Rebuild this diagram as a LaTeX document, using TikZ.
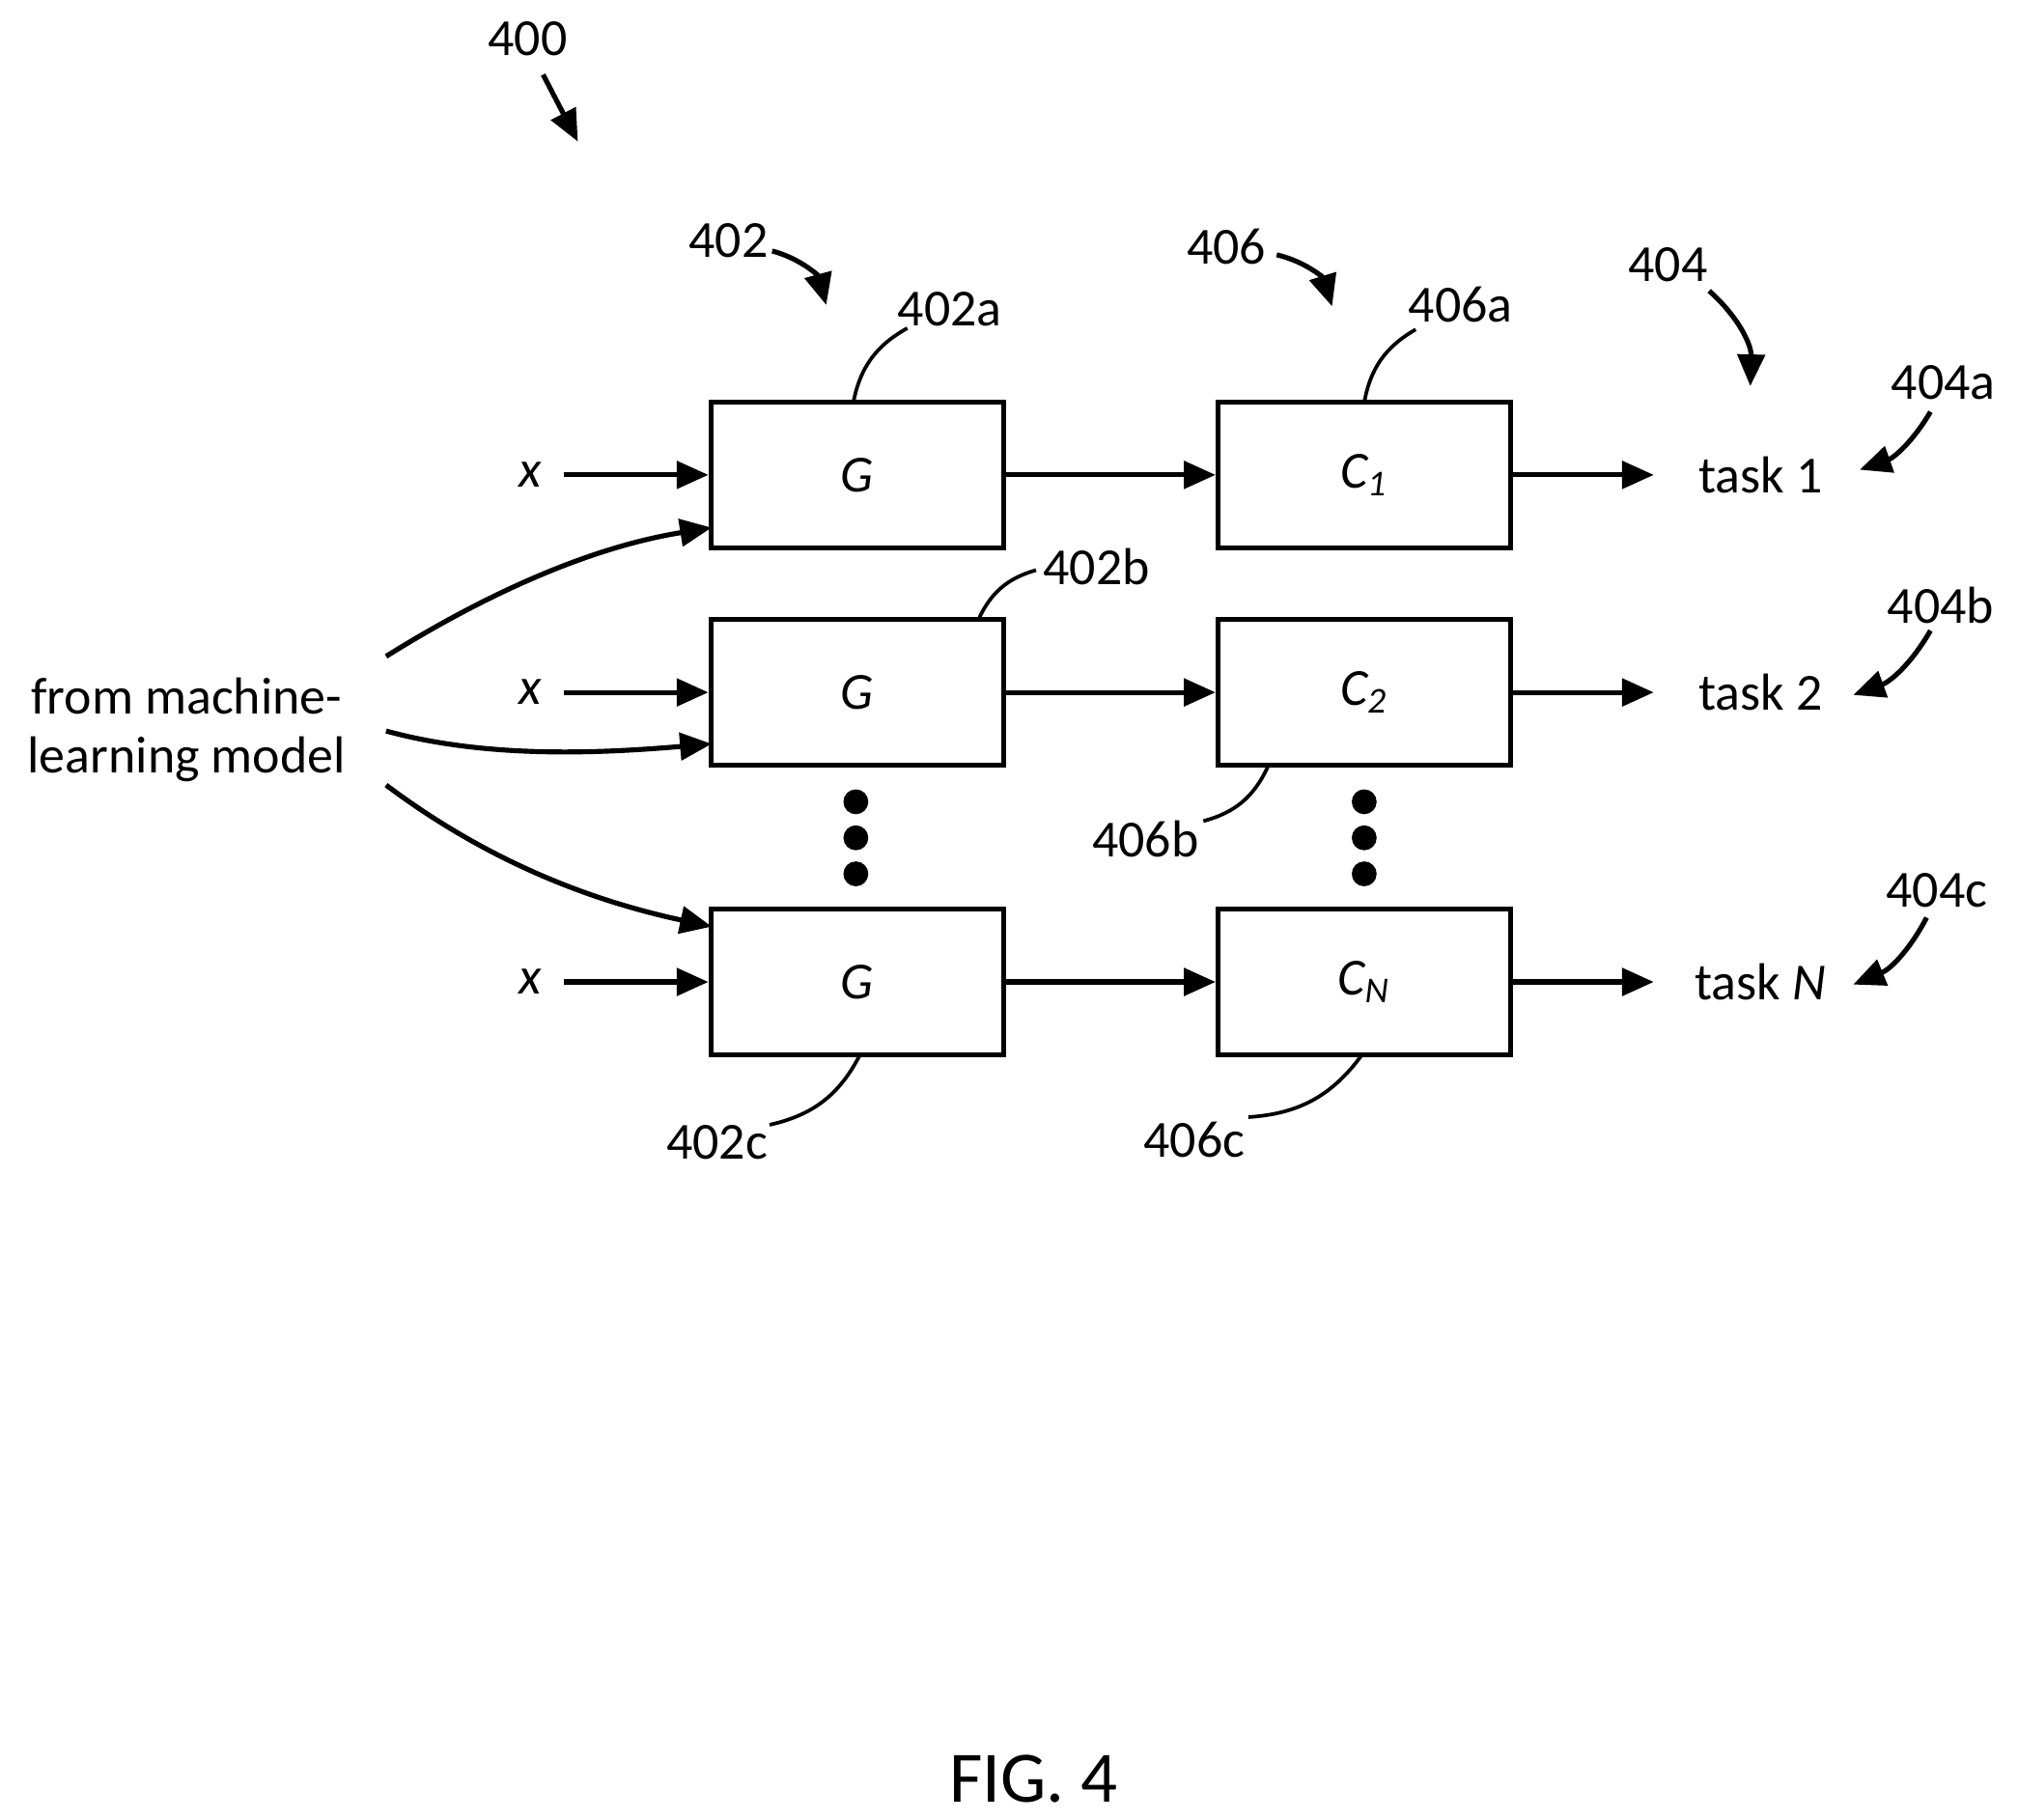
\documentclass[tikz,border=0pt]{standalone}
\usepackage{fontspec}
\setmainfont{Carlito}
\usetikzlibrary{arrows.meta}
\begin{document}
\begin{tikzpicture}[x=0.01cm,y=-0.01cm,
 box/.style={draw,line width=1.1pt,minimum width=226\pgflinewidth,inner sep=0},
 ar/.style={line width=1.1pt,-{Triangle[length=7pt,width=6pt]}},
 ld/.style={line width=0.8pt},
 lab/.style={font=\fontsize{11.5}{13}\selectfont},
 dot/.style={circle,fill,inner sep=0,minimum size=5.5pt}]
\useasboundingbox (0,0) rectangle (1568,1414);
\tikzset{every node/.append style={font=\fontsize{11.5}{13}\selectfont}}
\foreach \n/\y in {1/369,2/538,3/763}{
 \node[draw,line width=1.1pt,minimum width=6.4cm*0.355,minimum height=1.13cm,inner sep=0] (g\n) at (666,\y) {\textit{G}};
 \node (x\n) at (412,\y) {\textit{x}};
 \coordinate (xs\n) at (438,\y);
 \draw[ar] (xs\n) -- (g\n.west);
}
\node[draw,line width=1.1pt,minimum width=2.27cm,minimum height=1.13cm] (c1) at (1060,369) {$\mathit{C}_{\mathit{1}}$};
\node[draw,line width=1.1pt,minimum width=2.27cm,minimum height=1.13cm] (c2) at (1060,538) {$\mathit{C}_{\mathit{2}}$};
\node[draw,line width=1.1pt,minimum width=2.27cm,minimum height=1.13cm] (c3) at (1060,763) {$\mathit{C}_{\mathit{N}}$};
\foreach \n in {1,2,3}{\draw[ar] (g\n) -- (c\n);}
\node (t1) at (1368,369) {task 1};
\node (t2) at (1368,538) {task 2};
\node (t3) at (1368,763) {task \textit{N}};
\coordinate (te1) at (1285,369);\coordinate (te2) at (1285,538);\coordinate (te3) at (1285,763);
\foreach \n in {1,2,3}{\draw[ar] (c\n.east) -- (te\n);}
\foreach \y [count=\i] in {623,651,679}{\node[dot] (dg\i) at (665,\y) {};\node[dot] (dc\i) at (1060,\y) {};}
\node[align=center] (ml) at (145,567) {from machine-\\learning model};
\coordinate (m1) at (300,510);\coordinate (m2) at (300,568);\coordinate (m3) at (300,610);
\coordinate (e1) at (553,410);\coordinate (e2) at (553,578);\coordinate (e3) at (553,720);
\draw[ar] (m1) .. controls (380,460) and (460,425) .. (e1);
\draw[ar] (m2) .. controls (380,590) and (470,585) .. (e2);
\draw[ar] (m3) .. controls (380,670) and (460,700) .. (e3);
% reference labels
\node (n400) at (410,30) {400};
\coordinate (a400s) at (422,58);\coordinate (a400e) at (449,110);
\draw[ar] (a400s) -- (a400e);
\node (n402) at (566,187) {402};
\coordinate (a402s) at (600,195);\coordinate (a402e) at (642,237);
\draw[ar] (a402s) to[bend left=30] (a402e);
\node (n406) at (953,192) {406};
\coordinate (a406s) at (992,198);\coordinate (a406e) at (1035,238);
\draw[ar] (a406s) to[bend left=30] (a406e);
\node (n404) at (1296,206) {404};
\coordinate (a404s) at (1328,226);\coordinate (a404e) at (1360,300);
\draw[ar] (a404s) to[bend left=25] (a404e);
\node (n404a) at (1510,297) {404a};
\coordinate (b1s) at (1500,320);\coordinate (b1e) at (1445,365);
\draw[ar] (b1s) to[bend left=20] (b1e);
\node (n404b) at (1508,470) {404b};
\coordinate (b2s) at (1500,490);\coordinate (b2e) at (1440,540);
\draw[ar] (b2s) to[bend left=20] (b2e);
\node (n404c) at (1505,692) {404c};
\coordinate (b3s) at (1497,713);\coordinate (b3e) at (1440,765);
\draw[ar] (b3s) to[bend left=20] (b3e);
\node (n402a) at (738,240) {402a};
\coordinate (l1) at (663,313);\coordinate (l1e) at (705,255);
\draw[ld] (l1) to[bend left=25] (l1e);
\node (n406a) at (1135,237) {406a};
\coordinate (l2) at (1060,313);\coordinate (l2e) at (1100,256);
\draw[ld] (l2) to[bend left=25] (l2e);
\node (n402b) at (852,440) {402b};
\coordinate (l3) at (760,482);\coordinate (l3e) at (805,443);
\draw[ld] (l3) to[bend left=25] (l3e);
\node (n406b) at (890,652) {406b};
\coordinate (l4) at (985,596);\coordinate (l4e) at (935,638);
\draw[ld] (l4) to[bend left=25] (l4e);
\node (n402c) at (557,888) {402c};
\coordinate (l5) at (668,820);\coordinate (l5e) at (598,874);
\draw[ld] (l5) to[bend left=25] (l5e);
\node (n406c) at (928,886) {406c};
\coordinate (l6) at (1058,820);\coordinate (l6e) at (970,868);
\draw[ld] (l6) to[bend left=25] (l6e);
\node[font=\fontsize{16}{18}\selectfont] (fig) at (803,1382) {FIG. 4};
\end{tikzpicture}
\end{document}
